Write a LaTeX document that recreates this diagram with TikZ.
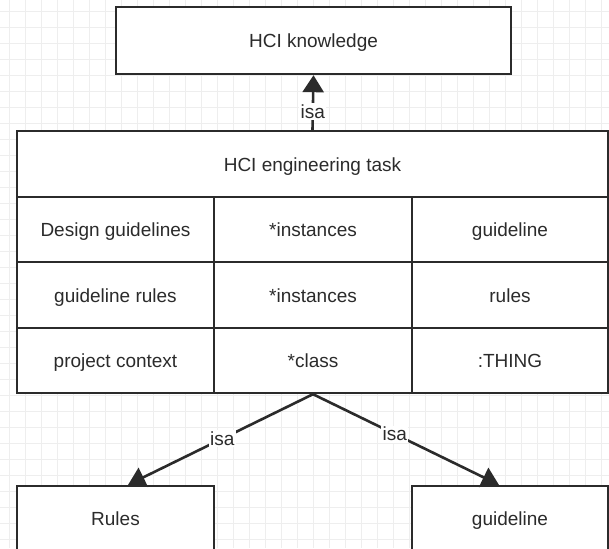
\documentclass[tikz,border=0pt]{standalone}
\usepackage{fontspec}
\setmainfont{Liberation Sans}
\usetikzlibrary{arrows.meta,calc}

\definecolor{gridline}{HTML}{EEEEEE}
\definecolor{ink}{HTML}{2B2B2B}

\tikzset{
  cell/.style={draw=ink, line width=2.4pt, fill=white, rectangle, inner sep=0pt,
               text=ink, font=\fontsize{19}{22}\selectfont,
               text height=15pt, text depth=1pt},
  isaedge/.style={draw=ink, line width=2.6pt,
                  -{Triangle[length=17pt,width=21pt]}},
  isalabel/.style={fill=white, inner sep=1.5pt, text=ink,
                   font=\fontsize{19}{22}\selectfont}
}

\begin{document}
\begin{tikzpicture}[x=1pt, y=-1pt]
  % canvas and background grid
  \useasboundingbox (0,0) rectangle (609,548);
  \fill[white] (0,0) rectangle (609,548);
  \foreach \gx in {9,25,...,609} \draw[gridline, line width=0.8pt] (\gx,0) -- (\gx,548);
  \foreach \gy in {11,27,...,548} \draw[gridline, line width=0.8pt] (0,\gy) -- (609,\gy);

  % superclass
  \node[cell, minimum width=395pt, minimum height=67pt] (know) at (313.5,40.5) {HCI knowledge};

  % class frame: title and slot rows
  \node[cell, minimum width=591pt, minimum height=66pt] (title) at (312.5,164) {HCI engineering task};

  \node[cell, minimum width=197pt, minimum height=65pt] (c11) at (115.5,229.5) {Design guidelines};
  \node[cell, minimum width=198pt, minimum height=65pt] (c12) at (313,229.5)   {*instances};
  \node[cell, minimum width=196pt, minimum height=65pt] (c13) at (510,229.5)   {guideline};

  \node[cell, minimum width=197pt, minimum height=66pt] (c21) at (115.5,295) {guideline rules};
  \node[cell, minimum width=198pt, minimum height=66pt] (c22) at (313,295)   {*instances};
  \node[cell, minimum width=196pt, minimum height=66pt] (c23) at (510,295)   {rules};

  \node[cell, minimum width=197pt, minimum height=65pt] (c31) at (115.5,360.5) {project context};
  \node[cell, minimum width=198pt, minimum height=65pt] (c32) at (313,360.5)   {*class};
  \node[cell, minimum width=196pt, minimum height=65pt] (c33) at (510,360.5)   {:THING};

  % subclasses
  \node[cell, minimum width=197pt, minimum height=64pt] (rules) at (115.5,518) {Rules};
  \node[cell, minimum width=196pt, minimum height=64pt] (guide) at (510,518)   {guideline};

  % is-a links
  \draw[isaedge] (title.north) -- node[isalabel, pos=0.34] {isa} (know.south);
  \draw[isaedge] (c32.south) -- node[isalabel, pos=0.49] {isa}
        ($(rules.north west)!0.563!(rules.north east)$);
  \draw[isaedge] (c32.south) -- node[isalabel, pos=0.44] {isa}
        ($(guide.north west)!0.444!(guide.north east)$);
\end{tikzpicture}
\end{document}
